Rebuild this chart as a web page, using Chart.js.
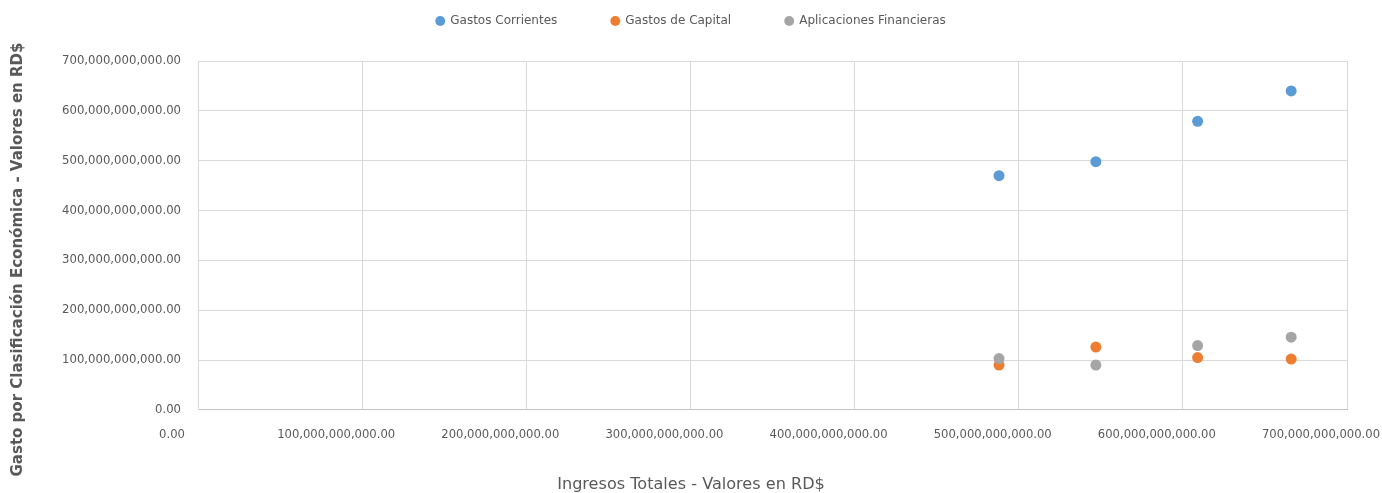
<!DOCTYPE html>
<html>
<head>
<meta charset="utf-8">
<script src="https://cdn.jsdelivr.net/npm/chart.js@4/dist/chart.umd.min.js"></script>
<style>
  html, body { margin: 0; padding: 0; background: #ffffff; }
  #wrap { width: 1382px; height: 493px; position: relative; }
</style>
</head>
<body>
<div id="wrap"><canvas id="chart"></canvas></div>
<script>
// Data (values in RD$)
const ingresosTotales = [488e9, 547e9, 609e9, 666e9];
const gastosCorrientes = [470e9, 498e9, 579e9, 640e9];
const gastosCapital = [90e9, 126e9, 105e9, 102e9];
const aplicacionesFinancieras = [103e9, 90e9, 129e9, 146e9];

const seriesNames = ["Gastos Corrientes", "Gastos de Capital", "Aplicaciones Financieras"];
const seriesColors = ["#5B9BD5", "#ED7D31", "#A5A5A5"];
const axisMax = 700e9;
const axisStep = 100e9;

const xTitle = "Ingresos Totales - Valores en RD$";
const yTitle = "Gasto por Clasificación Económica - Valores en RD$";

const textColor = "#595959";
const gridColor = "#d9d9d9";
const legendGap = 54;

Chart.defaults.font.family = "'DejaVu Sans', sans-serif";
Chart.defaults.color = textColor;

function toPoints(ys) {
  return ys.map((y, i) => ({ x: ingresosTotales[i], y: y }));
}

function fmt(v) {
  return Number(v).toLocaleString("en-US", { minimumFractionDigits: 2, maximumFractionDigits: 2 });
}

// legend: wide spacing between items but a short box; y title nudged down a bit
const layoutFix = {
  id: "layoutFix",
  afterInit(chart) {
    const legend = chart.legend;
    const fit = legend.fit.bind(legend);
    legend.fit = function () {
      fit();
      this.height = 61;
    };
  },
  afterLayout(chart) {
    chart.legend.top = 15 - legendGap;
    chart.boxes.forEach((box) => {
      if (box.options && box.options.text === yTitle) {
        box.top += 13;
        box.bottom += 13;
      }
    });
  },
};

const allSeries = [gastosCorrientes, gastosCapital, aplicacionesFinancieras];

const ctx = document.getElementById("chart").getContext("2d");
new Chart(ctx, {
  type: "scatter",
  data: {
    datasets: allSeries.map((ys, i) => ({
      label: seriesNames[i],
      data: toPoints(ys),
      backgroundColor: seriesColors[i],
      borderColor: seriesColors[i],
      borderWidth: 0,
      pointRadius: 5.5,
      pointHoverRadius: 6,
      order: 3 - i,
    })),
  },
  options: {
    responsive: true,
    maintainAspectRatio: false,
    animation: false,
    layout: { padding: 0 },
    plugins: {
      legend: {
        position: "top",
        labels: {
          usePointStyle: true,
          pointStyle: "circle",
          boxWidth: 8,
          boxHeight: 7,
          padding: legendGap,
          color: textColor,
          font: { size: 12 },
          sort: (a, b) => a.datasetIndex - b.datasetIndex,
        },
      },
      title: {
        display: true,
        position: "bottom",
        text: xTitle,
        color: textColor,
        font: { size: 16.1, weight: "normal", lineHeight: 1 },
        padding: 0,
      },
      subtitle: {
        display: true,
        position: "left",
        text: yTitle,
        color: textColor,
        font: { size: 15, weight: "bold", lineHeight: 1.2 },
        padding: { top: 9, bottom: 9 },
      },
      tooltip: { enabled: true },
    },
    scales: {
      x: {
        type: "linear",
        min: 0,
        max: axisMax,
        ticks: {
          stepSize: axisStep,
          padding: 18,
          labelOffset: -26,
          maxRotation: 0,
          color: textColor,
          font: { size: 11.6 },
          callback: (v) => fmt(v),
        },
        grid: { color: gridColor, drawTicks: false },
        border: { color: "#c4c4c4" },
        afterFit(scale) {
          scale.height = 67;
          scale.paddingLeft = 0;
          scale.paddingRight = 35;
        },
      },
      y: {
        type: "linear",
        min: 0,
        max: axisMax,
        ticks: {
          stepSize: axisStep,
          padding: 17,
          color: textColor,
          font: { size: 11.7 },
          callback: (v) => fmt(v),
        },
        grid: { color: gridColor, drawTicks: false },
        border: { color: gridColor },
        afterFit(scale) {
          scale.width = 162;
        },
      },
    },
  },
  plugins: [layoutFix],
});
</script>
</body>
</html>
